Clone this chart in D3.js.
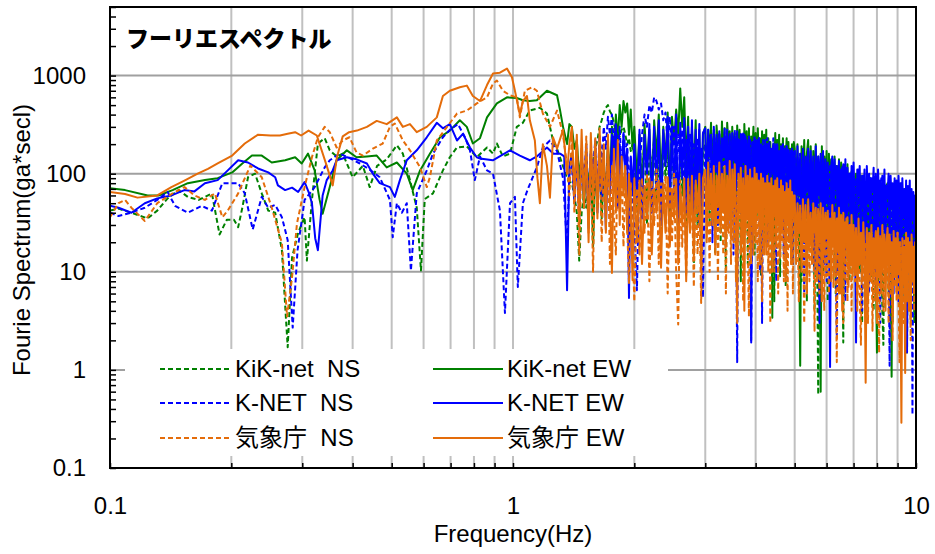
<!DOCTYPE html>
<html>
<head>
<meta charset="utf-8">
<script src="https://cdn.jsdelivr.net/npm/d3@7/dist/d3.min.js"></script>
<style>
body { margin: 0; background: #fff; }
text { font-family: "Liberation Sans", Arial, "Noto Sans CJK JP", sans-serif; fill: #000; }
</style>
</head>
<body>
<svg id="chart" width="935" height="554"></svg>
<script>
//
// Data
//
var xTickLabels = [0.1, 1, 10];
var yTickLabels = [0.1, 1, 10, 100, 1000];

// low frequency part: [Hz, gal*sec]
var kikNS_lo = [[0.100,42],[0.105,44],[0.113,40],[0.124,35],[0.131,42],[0.139,56],[0.148,68],[0.156,58],[0.166,54],[0.179,63],[0.187,24],[0.195,34],[0.203,34],[0.208,28.5],[0.213,45],[0.220,92],[0.229,100],[0.238,63],[0.247,42],[0.257,40],[0.267,16.6],[0.276,1.7],[0.283,14],[0.293,25],[0.304,36],[0.308,13],[0.317,54],[0.328,203],[0.341,230],[0.351,173],[0.365,150],[0.378,160],[0.400,92],[0.424,120],[0.441,73],[0.460,120],[0.486,140],[0.515,195],[0.533,160],[0.555,86],[0.577,45],[0.591,10.3],[0.604,55],[0.633,63],[0.670,108],[0.697,147],[0.726,185],[0.768,190],[0.813,147],[0.862,185],[0.892,160],[0.912,203],[0.944,150],[0.983,160],[1.022,300],[1.058,330],[1.101,440],[1.166,470],[1.214,410],[1.257,218],[1.286,180],[1.308,147],[1.340,110],[1.370,85]];
var kikEW_lo = [[0.100,71],[0.109,68],[0.124,60],[0.132,60],[0.143,68],[0.156,80],[0.172,86],[0.185,90],[0.201,103],[0.213,127],[0.225,153],[0.238,153],[0.252,130],[0.272,137],[0.288,147],[0.299,127],[0.310,160],[0.322,108],[0.331,55],[0.337,39],[0.351,73],[0.365,137],[0.387,173],[0.409,147],[0.434,150],[0.459,153],[0.486,116],[0.515,130],[0.545,100],[0.564,68],[0.588,108],[0.622,160],[0.659,235],[0.697,275],[0.738,350],[0.768,300],[0.795,203],[0.828,230],[0.862,375],[0.912,520],[0.966,600],[1.022,590],[1.058,560],[1.100,550],[1.146,560],[1.214,700],[1.286,630],[1.309,440],[1.331,300],[1.362,200],[1.380,320]];
var knetNS_lo = [[0.100,40],[0.105,37],[0.113,40],[0.122,45],[0.131,54],[0.139,65],[0.145,47],[0.156,40],[0.169,47],[0.179,42],[0.190,80],[0.208,80],[0.216,63],[0.226,27],[0.238,58],[0.247,45],[0.257,48],[0.267,36],[0.276,21],[0.284,2.7],[0.292,16.6],[0.304,54],[0.322,73],[0.341,116],[0.351,137],[0.371,160],[0.392,145],[0.417,127],[0.441,110],[0.467,92],[0.495,54],[0.503,22.5],[0.515,50],[0.530,40],[0.545,50],[0.558,10.3],[0.577,63],[0.611,108],[0.633,160],[0.670,235],[0.697,280],[0.730,320],[0.760,235],[0.782,173],[0.804,86],[0.828,150],[0.862,108],[0.892,100],[0.928,42],[0.955,3.8],[0.983,50],[1.011,58],[1.028,7],[1.058,50],[1.089,70],[1.146,116],[1.186,185],[1.235,218],[1.286,170],[1.331,90],[1.362,18],[1.380,100]];
var knetEW_lo = [[0.100,47],[0.105,45],[0.113,40],[0.122,50],[0.131,56],[0.142,60],[0.153,68],[0.162,66],[0.172,80],[0.185,86],[0.196,108],[0.208,137],[0.220,130],[0.233,113],[0.247,103],[0.257,92],[0.261,76],[0.272,68],[0.283,72],[0.293,65],[0.304,82],[0.312,63],[0.317,50],[0.323,22],[0.328,16.6],[0.337,60],[0.345,86],[0.357,108],[0.365,137],[0.387,147],[0.409,140],[0.434,127],[0.449,100],[0.467,80],[0.495,73],[0.509,58],[0.524,86],[0.545,137],[0.577,173],[0.611,235],[0.647,330],[0.670,290],[0.697,320],[0.726,218],[0.751,255],[0.782,185],[0.813,147],[0.828,143],[0.891,137],[0.983,173],[1.040,153],[1.101,137],[1.146,150],[1.214,185],[1.260,160],[1.309,160],[1.340,150],[1.362,6.5],[1.380,120]];
var jmaNS_lo = [[0.100,36],[0.105,50],[0.109,54],[0.113,45],[0.122,33],[0.131,50],[0.143,63],[0.153,73],[0.162,60],[0.172,54],[0.182,63],[0.190,36],[0.196,42],[0.208,63],[0.223,121],[0.238,92],[0.252,45],[0.267,19.6],[0.275,3.5],[0.283,8.8],[0.291,31],[0.304,73],[0.317,147],[0.328,235],[0.341,300],[0.351,265],[0.365,185],[0.378,218],[0.393,235],[0.409,165],[0.424,153],[0.449,180],[0.475,203],[0.495,300],[0.509,325],[0.533,218],[0.555,173],[0.588,116],[0.611,73],[0.622,92],[0.647,218],[0.686,300],[0.726,410],[0.768,440],[0.813,520],[0.862,600],[0.892,830],[0.912,890],[0.944,700],[0.983,630],[1.022,600],[1.040,375],[1.070,700],[1.114,760],[1.146,700],[1.186,410],[1.235,300],[1.286,440],[1.331,250],[1.362,120],[1.380,60]];
var jmaEW_lo = [[0.100,65],[0.109,62],[0.117,57],[0.131,60],[0.142,73],[0.153,85],[0.165,100],[0.175,112],[0.185,127],[0.201,153],[0.216,203],[0.233,250],[0.250,245],[0.264,245],[0.276,255],[0.288,265],[0.298,245],[0.311,275],[0.326,245],[0.345,120],[0.357,76],[0.366,150],[0.378,240],[0.392,265],[0.410,275],[0.434,300],[0.459,345],[0.486,320],[0.515,375],[0.533,300],[0.555,320],[0.577,265],[0.611,300],[0.647,375],[0.670,620],[0.697,700],[0.738,760],[0.768,790],[0.795,620],[0.828,550],[0.862,800],[0.892,1050],[0.928,1070],[0.966,1180],[0.994,960],[1.011,700],[1.040,400],[1.058,550],[1.083,620],[1.101,350],[1.133,218],[1.150,90],[1.166,50],[1.186,200],[1.214,120],[1.235,57],[1.257,235],[1.286,180],[1.331,280],[1.362,100],[1.380,200]];

// high frequency part: shared frequency list, one value per frequency
var hiFreq = [
  1.40,1.42,1.44,1.46,1.48,1.50,1.52,1.54,1.56,1.58,1.60,1.62,1.64,1.66,1.68,1.70,1.72,1.74,1.76,1.78,1.80,1.82,1.84,1.86,1.88,1.90,1.92,1.94,1.96,1.98,
  2.00,2.03,2.06,2.09,2.12,2.15,2.18,2.21,2.24,2.27,2.30,2.33,2.36,2.39,2.42,2.45,2.48,2.51,2.54,2.57,2.60,2.63,2.66,2.69,2.72,2.75,2.78,2.81,2.84,2.87,2.90,2.93,2.96,
  3.000,3.025,3.050,3.075,3.100,3.125,3.150,3.175,3.200,3.225,
  3.250,3.275,3.300,3.325,3.350,3.375,3.400,3.425,3.450,3.475,
  3.500,3.525,3.550,3.575,3.600,3.625,3.650,3.675,3.700,3.725,
  3.750,3.775,3.800,3.825,3.850,3.875,3.900,3.925,3.950,3.975,
  4.000,4.025,4.050,4.075,4.100,4.125,4.150,4.175,4.200,4.225,
  4.250,4.275,4.300,4.325,4.350,4.375,4.400,4.425,4.450,4.475,
  4.500,4.525,4.550,4.575,4.600,4.625,4.650,4.675,4.700,4.725,
  4.750,4.775,4.800,4.825,4.850,4.875,4.900,4.925,4.950,4.975,
  5.00,5.04,5.08,5.12,5.16,5.20,5.24,5.28,5.32,5.36,
  5.40,5.44,5.48,5.52,5.56,5.60,5.64,5.68,5.72,5.76,
  5.80,5.84,5.88,5.92,5.96,6.00,6.04,6.08,6.12,6.16,
  6.20,6.24,6.28,6.32,6.36,6.40,6.44,6.48,6.52,6.56,
  6.60,6.64,6.68,6.72,6.76,6.80,6.84,6.88,6.92,6.96,
  7.00,7.05,7.10,7.15,7.20,7.25,7.30,7.35,7.40,7.45,
  7.50,7.55,7.60,7.65,7.70,7.75,7.80,7.85,7.90,7.95,
  8.00,8.05,8.10,8.15,8.20,8.25,8.30,8.35,8.40,8.45,
  8.50,8.55,8.60,8.65,8.70,8.75,8.80,8.85,8.90,8.95,
  9.00,9.05,9.10,9.15,9.20,9.25,9.30,9.35,9.40,9.45,
  9.50,9.55,9.60,9.65,9.70,9.75,9.80,9.85,9.90,9.95,
  10.00];

var kikNS_hi = [
  80,60,40,13,40,60,45,90,120,137,180,220,300,350,420,470,500,430,400,330,260,218,240,280,300,250,200,230,170,200,
  150,40,200,80,250,30,180,110,230,50,200,20,260,90,190,35,240,70,200,15,220,60,180,25,210,80,160,12,190,50,150,18,170,
  200,40,180,30,220,60,170,15,190,45,
  210,20,170,70,190,10,160,40,200,25,
  170,55,150,20,180,40,160,8,190,35,
  150,60,170,12,140,30,160,50,130,15,
  170,35,120,60,150,9,130,40,160,20,
  120,50,140,25,100,30,150,45,5,110,
  25,140,60,120,9,130,35,100,50,120,
  7,110,40,130,20,90,55,100,12,90,
  110,20,100,35,120,8,95,25,110,5,
  90,30,100,12,95,4,85,20,0.56,80,
  25,95,10,75,30,85,5,90,15,70,
  85,20,75,6,80,25,70,10,75,18,
  1.9,70,12,65,25,75,8,60,20,65,
  70,15,60,8,55,20,65,3,50,12,
  60,6,55,18,65,9,45,4,50,12,
  55,8,45,15,50,4,1.8,50,10,40,
  48,6,42,12,50,3,45,9,40,7,
  42,12,38,2,50,8,40,5,45,6,
  1.5,40,10,45,5,38,8,35,3,40,
  40];
var kikEW_hi = [
  300,180,220,90,160,45,130,60,170,18,120,50,150,35,110,70,200,90,300,150,400,220,500,300,550,420,520,250,450,180,
  300,90,250,60,320,120,280,50,350,150,400,80,300,130,420,60,380,200,450,250,740,300,600,120,380,45,300,90,350,30,280,21,250,
  300,70,280,150,330,110,260,60,310,180,
  250,90,340,130,290,40,330,200,270,80,
  300,120,260,55,310,170,280,90,250,25,
  320,140,270,80,290,60,240,150,300,100,
  260,50,290,130,230,70,270,35,250,120,
  280,60,230,150,210,90,3.4,200,110,260,
  60,220,130,250,40,200,110,230,30,190,
  140,230,80,210,45,180,120,200,60,210,
  180,60,200,40,1.1,190,70,220,35,160,
  220,50,190,25,170,80,200,40,150,70,
  0.6,190,30,150,60,170,20,160,50,140,
  130,35,150,15,120,60,140,25,130,40,
  120,20,110,45,125,30,100,55,105,12,
  90,25,100,40,80,10,95,20,75,30,
  70,15,85,8,90,35,80,20,85,12,
  1.5,75,25,70,15,80,30,65,35,75,
  80,20,70,12,0.85,60,25,75,20,65,
  70,9,60,30,55,25,65,15,70,6,
  55,20,50,18,65,12,60,22,55,10,
  45];
var knetNS_hi = [
  120,60,180,40,150,90,200,50,170,110,220,70,250,130,300,180,380,250,400,200,330,150,300,100,250,185,200,60,150,40,
  30,6.5,120,250,400,300,500,420,600,550,450,520,350,420,200,380,150,300,80,250,120,280,60,220,100,250,40,200,90,230,30,180,5.5,
  200,80,280,50,250,20,300,100,230,30,
  260,80,220,45,300,100,240,30,260,70,
  220,15,280,60,1.2,230,90,260,40,270,
  25,240,80,200,45,230,2,210,60,240,
  45,200,90,230,10,190,3,220,70,180,
  35,230,20,200,60,180,100,230,40,190,
  8,200,55,170,25,190,70,160,15,180,
  35,190,50,150,20,170,45,160,12,150,
  170,40,150,25,160,60,140,6,150,35,
  160,40,130,15,150,10,120,50,140,3,
  120,30,145,20,130,8,110,40,125,20,
  130,45,115,15,2.2,110,35,100,15,120,
  30,110,5,100,40,95,25,105,12,110,
  100,25,90,10,110,30,85,4,95,20,
  80,15,100,6,90,25,75,12,95,8,
  85,20,75,3,90,15,70,25,80,12,
  70,18,1.1,80,20,65,8,85,18,60,
  75,5,65,22,80,10,60,14,2.5,70,
  20,65,10,60,25,55,0.35,60,15,50,
  20];
var knetEW_hi = [
  160,50,150,35,170,60,140,28,160,70,185,40,130,55,150,27,170,60,250,90,300,45,200,80,260,110,180,5.4,150,60,
  200,50,280,35,250,90,320,40,300,70,350,30,280,120,380,45,300,60,400,28,330,90,370,40,300,55,350,25,280,80,320,35,260,
  290,60,260,150,240,30,280,110,250,90,
  270,45,230,160,260,120,280,60,240,25,
  260,140,240,70,270,100,220,40,250,130,
  250,70,220,40,240,150,1.9,210,100,230,
  50,220,130,230,35,200,90,190,60,220,
  20,200,110,210,60,180,140,190,45,200,
  110,190,30,170,90,190,70,200,15,170,
  120,190,50,175,30,160,100,180,50,165,
  170,30,190,60,160,15,180,45,150,70,
  180,20,170,55,140,12,190,40,150,60,
  160,25,170,12,140,50,130,35,1.07,120,
  150,25,140,70,120,10,135,45,110,30,
  125,40,140,18,115,60,100,30,120,35,
  130,40,1.9,110,60,120,20,95,45,110,
  12,120,50,100,30,90,65,115,10,100,
  25,110,55,85,8,95,40,110,20,75,
  60,100,14,95,45,80,6,90,35,85,
  22,95,50,80,12,90,40,70,25,85,
  1.5,75,45,85,15,70,35,65,25,60,
  55];
var jmaNS_hi = [
  250,40,220,15,180,60,240,25,150,10,200,45,170,20,130,55,180,12,120,35,15,150,40,110,18,90,30,7.7,80,20,
  5,70,15,90,25,100,8,85,30,110,12,80,40,95,6,75,20,100,10,2.9,85,18,70,9,90,25,65,7,80,15,60,4.8,75,
  90,25,80,10,100,35,70,20,85,8,
  95,30,70,15,85,6,75,25,90,12,
  80,20,95,8,65,30,70,15,80,5,
  75,25,65,18,3.5,70,12,85,30,60,
  20,80,8,70,25,60,5,75,15,65,
  22,55,10,70,3,60,18,50,10,65,
  25,55,6,60,14,45,20,55,8,50,
  15,60,4,50,18,45,12,55,6,50,
  45,12,40,5,50,15,35,3,42,10,
  48,8,35,14,42,2.5,38,10,45,6,
  38,12,30,4,40,9,35,6,32,10,
  40,7,32,10,1.2,35,6,30,12,28,
  3,30,8,35,5,28,10,30,4,25,
  28,8,25,4,22,6,1.8,25,7,20,
  6,26,3,22,8,24,2.5,20,5,26,
  18,6,1.5,24,7,20,4,22,8,18,
  20,3,22,6,18,2,20,7,18,5,
  25,6,1.2,20,8,18,3,22,6,15,
  6,22,4,18,2,20,8,18,4,15,
  12];
var jmaEW_hi = [
  300,60,250,30,280,45,200,20,260,55,230,35,290,70,200,25,250,50,9.7,180,40,220,30,150,60,120,25,100,45,8.2,
  90,20,85,12,75,35,90,15,70,40,85,11,80,25,92,18,70,35,88,12,75,30,90,8,80,25,95,14,85,40,100,10,90,
  110,20,130,45,100,30,120,15,95,50,
  130,25,100,40,120,18,95,35,135,22,
  110,45,125,30,3,100,40,115,20,90,
  4,120,35,95,20,110,30,90,15,115,
  25,100,40,85,12,100,28,90,45,80,
  15,95,35,80,22,90,10,75,40,85,
  18,90,30,70,14,85,25,75,35,65,
  8,80,30,70,20,85,12,65,35,60,
  60,15,50,25,45,10,55,20,48,6,
  55,18,40,12,50,25,45,8,42,20,
  50,5,45,15,38,22,42,14,35,8,
  48,18,40,10,35,16,45,6,38,4,
  40,14,32,20,36,7,30,12,38,9,
  30,10,28,6,35,12,25,8,32,15,
  0.74,28,5,25,10,30,8,22,12,26,
  3,28,9,22,6,30,11,24,4,20,
  28,7,24,12,20,3.5,26,9,22,6,
  25,10,20,6,0.29,22,8,18,0.93,25,
  5,22,10,20,3,24,8,18,6,20,
  8];

// series in legend order (also drawing order)
var series = [
  { name: "KiK-net  NS", color: "#008000", dash: "5,3", lo: kikNS_lo, hi: kikNS_hi },
  { name: "KiK-net EW", color: "#008000", dash: null, lo: kikEW_lo, hi: kikEW_hi },
  { name: "K-NET  NS", color: "#0000ff", dash: "5,3", lo: knetNS_lo, hi: knetNS_hi },
  { name: "K-NET EW", color: "#0000ff", dash: null, lo: knetEW_lo, hi: knetEW_hi },
  { name: "気象庁  NS", color: "#e46c0a", dash: "5,3", lo: jmaNS_lo, hi: jmaNS_hi },
  { name: "気象庁 EW", color: "#e46c0a", dash: null, lo: jmaEW_lo, hi: jmaEW_hi }
];

//
// Chart
//
var svg = d3.select("#chart");
var plotL = 110, plotR = 916, plotT = 7, plotB = 468; // plot area edges

var x = d3.scaleLog().domain([0.1, 10]).range([plotL, plotR]);
var y = d3.scaleLog().domain([0.1, 5000]).range([plotB, plotT]);

svg.append("rect").attr("width", 935).attr("height", 554).attr("fill", "#fff");

svg.append("clipPath").attr("id", "plotclip")
  .append("rect").attr("x", plotL).attr("y", plotT).attr("width", plotR - plotL).attr("height", plotB - plotT);

// gridlines
svg.append("g").selectAll("line")
  .data(x.ticks().filter(function(d) { return d > 0.1 && d < 10; }))
  .enter().append("line")
  .attr("x1", function(d) { return x(d); }).attr("x2", function(d) { return x(d); })
  .attr("y1", plotT).attr("y2", plotB)
  .attr("stroke", "#c0c0c0").attr("stroke-width", 2);

svg.append("g").selectAll("line")
  .data(yTickLabels.filter(function(d) { return d > 0.1; }))
  .enter().append("line")
  .attr("x1", plotL).attr("x2", plotR)
  .attr("y1", function(d) { return y(d); }).attr("y2", function(d) { return y(d); })
  .attr("stroke", "#a0a0a0").attr("stroke-width", 2);

// spectra
var line = d3.line()
  .x(function(d) { return x(d[0]); })
  .y(function(d) { return y(d[1]); });

var plot = svg.append("g").attr("clip-path", "url(#plotclip)");
series.forEach(function(s) {
  var pts = s.lo.concat(hiFreq.map(function(f, i) { return [f, s.hi[i]]; }))
    .filter(function(d) { return d[1] != null; });
  plot.append("path")
    .attr("d", line(pts))
    .attr("fill", "none")
    .attr("stroke", s.color)
    .attr("stroke-width", 2)
    .attr("stroke-linejoin", "round")
    .attr("stroke-dasharray", s.dash);
});

// legend
var lg = svg.append("g");
lg.append("rect").attr("x", 125).attr("y", 349).attr("width", 543).attr("height", 107).attr("fill", "#fff");
var rowY = [369, 403, 438], lineX = [160, 433], textX = [235, 507];
series.forEach(function(s, i) {
  var c = i % 2, r = Math.floor(i / 2);
  lg.append("line")
    .attr("x1", lineX[c]).attr("x2", lineX[c] + 70)
    .attr("y1", rowY[r]).attr("y2", rowY[r])
    .attr("stroke", s.color).attr("stroke-width", 2)
    .attr("stroke-dasharray", s.dash);
  lg.append("text")
    .attr("x", textX[c]).attr("y", rowY[r] + 8)
    .style("font-size", "24px").style("white-space", "pre")
    .text(s.name);
});

// axes (ticks point inward)
var xAxis = svg.append("g").attr("transform", "translate(0," + plotB + ")")
  .call(d3.axisBottom(x).tickValues(x.ticks()).tickSize(-5).tickSizeOuter(0).tickPadding(29)
    .tickFormat(function(d) { return xTickLabels.indexOf(d) >= 0 ? String(d) : ""; }));
var yAxis = svg.append("g").attr("transform", "translate(" + plotL + ",0)")
  .call(d3.axisLeft(y).tickValues(y.ticks()).tickSize(-6).tickSizeOuter(0).tickPadding(24)
    .tickFormat(function(d) { return yTickLabels.indexOf(d) >= 0 ? String(d) : ""; }));
[xAxis, yAxis].forEach(function(a) {
  a.select(".domain").remove();
  a.selectAll(".tick line").attr("stroke", "#000").attr("stroke-width", 1.5);
  a.selectAll(".tick text").style("font-size", "24px").attr("fill", "#000")
    .style("font-family", "'Liberation Sans', Arial, sans-serif");
});

// plot frame
svg.append("rect")
  .attr("x", plotL).attr("y", plotT).attr("width", plotR - plotL).attr("height", plotB - plotT)
  .attr("fill", "none").attr("stroke", "#000").attr("stroke-width", 2);

// titles
svg.append("text")
  .attr("x", 126).attr("y", 47)
  .style("font-family", "'Noto Sans CJK JP', sans-serif")
  .style("font-weight", "900").style("font-size", "23px")
  .text("フーリエスペクトル");

svg.append("text")
  .attr("x", (plotL + plotR) / 2).attr("y", 542)
  .attr("text-anchor", "middle").style("font-size", "24px")
  .text("Frequency(Hz)");

svg.append("text")
  .attr("transform", "translate(30,240) rotate(-90)")
  .attr("text-anchor", "middle").style("font-size", "24px")
  .text("Fourie Spectrum(ga*secl)");
</script>
</body>
</html>
